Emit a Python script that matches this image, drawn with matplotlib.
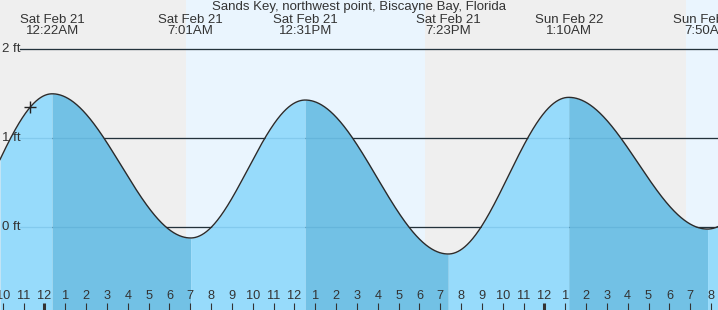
import numpy as np
import matplotlib
matplotlib.use("Agg")
import matplotlib.pyplot as plt
from matplotlib.transforms import blended_transform_factory

# ---------------- data ----------------
title = "Sands Key, northwest point, Biscayne Bay, Florida"
# tide extremes, hours since Sat Feb 21 00:00, heights in ft
ext_hours = [-5.25, 0.367, 7.017, 12.517, 19.383, 25.167, 31.833, 37.6]
ext_heights = [-0.28, 1.50, -0.12, 1.43, -0.30, 1.46, -0.02, 1.50]
label_hours = [0.367, 7.017, 12.517, 19.383, 25.167, 31.833]
label_days = ["Sat Feb 21", "Sat Feb 21", "Sat Feb 21", "Sat Feb 21", "Sun Feb 22", "Sun Feb 22"]
label_times = ["12:22AM", "7:01AM", "12:31PM", "7:23PM", "1:10AM", "7:50AM"]
sun_hours = [6.79, 18.28, 30.78]          # sunrise, sunset, sunrise
now_hour = -0.70
tick_hours = list(range(-2, 33))
tick_labels = ["10", "11", "12", "1", "2", "3", "4", "5", "6", "7", "8", "9", "10", "11",
               "12", "1", "2", "3", "4", "5", "6", "7", "8", "9", "10", "11",
               "12", "1", "2", "3", "4", "5", "6", "7", "8"]
midnight_hours = [0, 24]
y_levels = [0, 1, 2]
y_labels = ["0 ft", "1 ft", "2 ft"]

# ---------------- styling ----------------
W, H = 718, 310
XMIN, XMAX = (0 - 44.5) / 20.83, (W - 44.5) / 20.83
YMIN, YMAX = -82.7 / 89.0, 227.3 / 89.0
NIGHT = "#efefef"
DAY = "#eaf5fe"
RISE = "#97dbfb"
FALL = "#72c1e5"
TXT = "#333333"
FONT = "Liberation Sans"
FS = 9.5
FS_TICK = 9.2

fig = plt.figure(figsize=(W / 100, H / 100), dpi=100)
ax = fig.add_axes([0, 0, 1, 1])
ax.set_xlim(XMIN, XMAX)
ax.set_ylim(YMIN, YMAX)
ax.axis("off")
bx = blended_transform_factory(ax.transData, ax.transAxes)
by = blended_transform_factory(ax.transAxes, ax.transData)

# day / night background
edges = [XMIN] + sun_hours + [XMAX]
for i in range(len(edges) - 1):
    ax.axvspan(edges[i], edges[i + 1], color=NIGHT if i % 2 == 0 else DAY, lw=0, zorder=0)

# horizontal level lines (black behind water)
for lv in y_levels:
    ax.plot([20 / W, 1], [lv, lv], transform=by, color="#222222", lw=0.9, zorder=1)


def tide_segment(i, t):
    h0, h1 = ext_heights[i], ext_heights[i + 1]
    t0, t1 = ext_hours[i], ext_hours[i + 1]
    f = (t - t0) / (t1 - t0)
    return h0 + (h1 - h0) * (1 - np.cos(np.pi * f)) / 2


all_t, all_v = [], []
for i in range(len(ext_hours) - 1):
    a = max(ext_hours[i], XMIN)
    b = min(ext_hours[i + 1], XMAX)
    if b <= a:
        continue
    t = np.linspace(a, b, 400)
    v = tide_segment(i, t)
    col = RISE if ext_heights[i + 1] > ext_heights[i] else FALL
    ax.fill_between(t, v, YMIN, color=col, lw=0, zorder=2)
    all_t.append(t)
    all_v.append(v)

t_all = np.concatenate(all_t)
v_all = np.concatenate(all_v)

# faint level lines over water
for lv in y_levels:
    ax.plot([20 / W, 1], [lv, lv], transform=by, color="#2a7fb0", alpha=0.18, lw=0.9, zorder=3)

ax.plot(t_all, v_all, color="#2b2b2b", lw=1.0, zorder=4)

# current time marker
seg = max(i for i in range(len(ext_hours) - 1) if ext_hours[i] <= now_hour)
ax.plot([now_hour], [tide_segment(seg, np.array(now_hour))], marker="+", ms=8, mew=1.0,
        color="#222222", zorder=5)

# y labels
for lv, lab in zip(y_levels, y_labels):
    ax.text(2 / W, lv, lab, transform=by, ha="left", va="center", fontsize=FS,
            family=FONT, color=TXT, zorder=6)

# title and extreme labels
ax.text(0.5, 1 - 7 / H, title, transform=ax.transAxes, ha="center", va="center",
        fontsize=FS, family=FONT, color=TXT, zorder=6)
for hx, d, tm in zip(label_hours, label_days, label_times):
    ax.text(hx, 1 - 20 / H, d, transform=bx, ha="center", va="center", fontsize=FS,
            family=FONT, color=TXT, zorder=6)
    ax.text(hx, 1 - 31 / H, tm, transform=bx, ha="center", va="center", fontsize=FS,
            family=FONT, color=TXT, zorder=6)

# hour ticks and labels
for hx, lab in zip(tick_hours, tick_labels):
    thick = hx in midnight_hours
    ax.plot([hx, hx], [0, 7.5 / H], transform=bx, color=TXT,
            lw=2.2 if thick else 0.8, solid_capstyle="butt", zorder=6)
    ax.text(hx, 14 / H, lab, transform=bx, ha="center", va="center", fontsize=FS_TICK,
            family=FONT, color=TXT, zorder=6)

fig.savefig("out.png", dpi=100)
